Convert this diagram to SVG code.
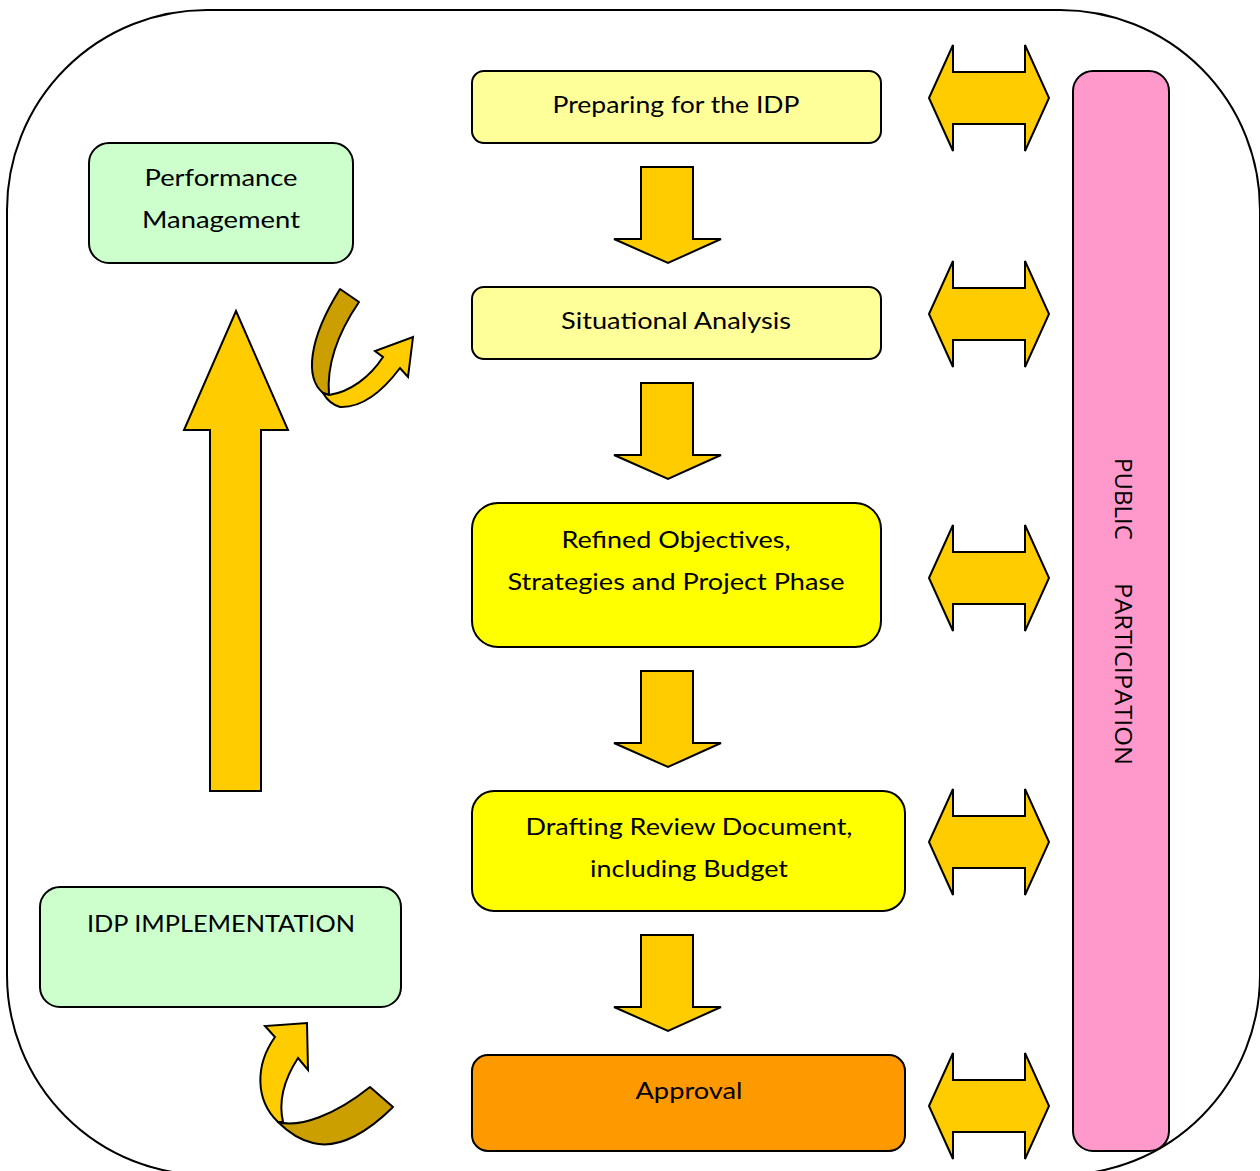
<svg xmlns="http://www.w3.org/2000/svg" width="1260" height="1171" viewBox="0 0 1260 1171">
<defs>
<style>
.box{stroke:#000;stroke-width:2}
.arr{fill:#FFCC00;stroke:#000;stroke-width:2;stroke-linejoin:miter}
.dark{fill:#CC9F00;stroke:#000;stroke-width:2;stroke-linejoin:round}
.lt{fill:#FFCC00;stroke:#000;stroke-width:2;stroke-linejoin:miter}
.t{font-family:Lato,"Open Sans",sans-serif;font-size:24px;fill:#000;text-anchor:middle}
.v{font-family:"Open Sans","Noto Sans",sans-serif;font-size:24px;fill:#000;text-anchor:middle}
</style>
<path id="down" d="M641,0 L693,0 L693,72 L721,72 L668,96 L614,72 L641,72 Z"/>
<path id="dbl" d="M929,0 L953,-53 L953,-26 L1025,-26 L1025,-53 L1049,0 L1025,53 L1025,26 L953,26 L953,53 Z"/>
</defs>
<rect x="0" y="0" width="1260" height="1171" fill="#fff"/>
<rect id="frame" x="7" y="10" width="1253" height="1165" rx="200" ry="200" fill="#fff" stroke="#000" stroke-width="2"/>

<g id="connectors">
<use href="#down" class="arr" y="167"/>
<use href="#down" class="arr" y="383"/>
<use href="#down" class="arr" y="671"/>
<use href="#down" class="arr" y="935"/>
<use href="#dbl" class="arr" y="98"/>
<use href="#dbl" class="arr" y="314"/>
<use href="#dbl" class="arr" y="578"/>
<use href="#dbl" class="arr" y="842"/>
<use href="#dbl" class="arr" y="1106"/>
<path class="arr" d="M236,311 L288,430 L261,430 L261,791 L210,791 L210,430 L184,430 Z"/>
<g id="curve-top">
<path class="dark" d="M340,289 L359,302 C342,327 326,360 329,395 L323,393 C305,378 308,340 340,289 Z"/>
<path class="lt" d="M323,393 L329,395 C350,392 370,377 383,357 L375,351 L413,337 L408,377 L400,368 C385,388 365,408 340,407 C333,405 327,400 323,393 Z"/>
</g>
<g id="curve-bottom">
<path class="lt" d="M278,1122 C255,1100 255,1065 275,1037 L265,1026 L307,1023 L308,1070 L298,1058 C285,1078 278,1100 283,1122 Z"/>
<path class="dark" d="M278,1122 C300,1128 335,1115 370,1087 L393,1107 C370,1130 340,1150 313,1143 C300,1140 288,1132 278,1122 Z"/>
</g>
</g>

<g id="n-prep">
<rect class="box" x="472" y="71" width="409" height="72" rx="12" fill="#FFFF99"/>
<text class="t" x="676" y="113" textLength="247" lengthAdjust="spacingAndGlyphs">Preparing for the IDP</text>
</g>
<g id="n-sit">
<rect class="box" x="472" y="287" width="409" height="72" rx="12" fill="#FFFF99"/>
<text class="t" x="676" y="329" textLength="230" lengthAdjust="spacingAndGlyphs">Situational Analysis</text>
</g>
<g id="n-refined">
<rect class="box" x="472" y="503" width="409" height="144" rx="26" fill="#FFFF00"/>
<text class="t" x="676" y="548" textLength="229" lengthAdjust="spacingAndGlyphs">Refined Objectives,</text>
<text class="t" x="676" y="590" textLength="337" lengthAdjust="spacingAndGlyphs">Strategies and Project Phase</text>
</g>
<g id="n-draft">
<rect class="box" x="472" y="791" width="433" height="120" rx="22" fill="#FFFF00"/>
<text class="t" x="689" y="835" textLength="327" lengthAdjust="spacingAndGlyphs">Drafting Review Document,</text>
<text class="t" x="689" y="877" textLength="198" lengthAdjust="spacingAndGlyphs">including Budget</text>
</g>
<g id="n-approval">
<rect class="box" x="472" y="1055" width="433" height="96" rx="16" fill="#FF9900"/>
<text class="t" x="689" y="1099" textLength="107" lengthAdjust="spacingAndGlyphs">Approval</text>
</g>
<g id="n-perf">
<rect class="box" x="89" y="143" width="264" height="120" rx="20" fill="#CCFFCC"/>
<text class="t" x="221" y="186" textLength="153" lengthAdjust="spacingAndGlyphs">Performance</text>
<text class="t" x="221" y="228" textLength="158" lengthAdjust="spacingAndGlyphs">Management</text>
</g>
<g id="n-impl">
<rect class="box" x="40" y="887" width="361" height="120" rx="20" fill="#CCFFCC"/>
<text class="t" x="221" y="932" textLength="268" lengthAdjust="spacingAndGlyphs">IDP IMPLEMENTATION</text>
</g>
<g id="n-public">
<rect class="box" x="1073" y="71" width="96" height="1080" rx="20" fill="#FF99CC"/>
<text class="v" transform="translate(1115,499) rotate(90)" textLength="82" lengthAdjust="spacingAndGlyphs">PUBLIC</text>
<text class="v" transform="translate(1115,674) rotate(90)" textLength="182" lengthAdjust="spacingAndGlyphs">PARTICIPATION</text>
</g>
</svg>
